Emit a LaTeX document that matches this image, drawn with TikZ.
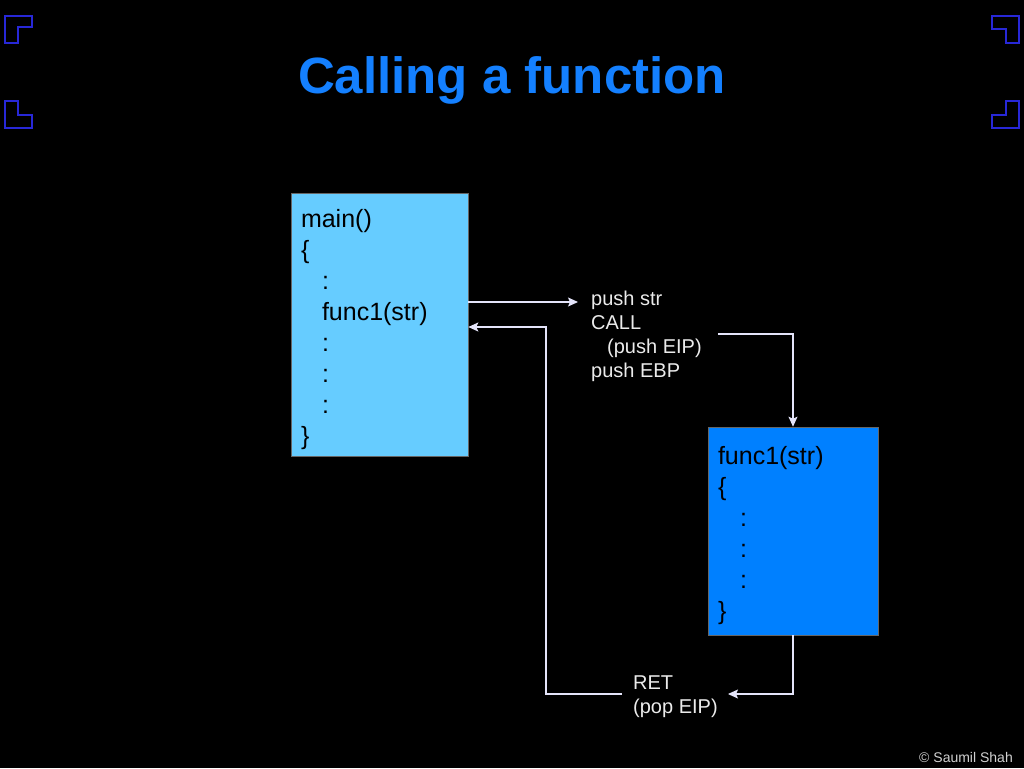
\documentclass[tikz,border=0pt]{standalone}
\usepackage{fontspec}
\setmainfont{Liberation Sans}
\usepackage{xcolor}
\usetikzlibrary{arrows.meta, positioning}
\definecolor{titleblue}{RGB}{20,128,255}
\definecolor{lightbox}{RGB}{102,204,255}
\definecolor{darkbox}{RGB}{0,128,255}
\definecolor{cornerblue}{RGB}{40,40,215}
\definecolor{linkcol}{RGB}{228,228,250}

\begin{document}
\begin{tikzpicture}[x=1pt, y=-1pt,
            box/.style={draw=black!60, line width=0.6pt, rectangle, align=left, inner xsep=10pt, inner ysep=4pt, font=\fontsize{25}{31}\selectfont},
            note/.style={text=white!92!black, align=left, inner sep=0pt, font=\fontsize{20}{24}\selectfont},
            corner/.style={draw=cornerblue, line width=1.5pt},
            arrow/.style={-{Stealth[length=10pt, width=9pt, inset=2pt]}, line width=1.2pt, linkcol}]

            \fill[black] (0,0) rectangle (1024,768);
            \useasboundingbox (0,0) rectangle (1024,768);

            % corner marks
            \draw[corner] (5,16) -- (32,16) -- (32,27) -- (18,27) -- (18,43) -- (5,43) -- cycle;
            \draw[corner] (5,101) -- (18,101) -- (18,115) -- (32,115) -- (32,128) -- (5,128) -- cycle;
            \draw[corner] (992,16) -- (1019,16) -- (1019,43) -- (1006,43) -- (1006,29) -- (992,29) -- cycle;
            \draw[corner] (1006,101) -- (1019,101) -- (1019,128) -- (992,128) -- (992,115) -- (1006,115) -- cycle;

            \node[anchor=base, inner sep=0pt, text=titleblue, font=\fontsize{51}{60}\selectfont\bfseries] (title) at (512,93) {Calling a function};

            \node[box, fill=lightbox, text width=157pt, minimum height=263pt] (main) at (379.5,324.5)
                {\rule{0pt}{28pt}main()\\ \{\\ \hspace*{21pt}:\\ \hspace*{21pt}func1(str)\\ \hspace*{21pt}:\\ \hspace*{21pt}:\\ \hspace*{21pt}:\\ \}};
            \node[box, fill=darkbox, text width=150pt, minimum height=208pt] (func) at (793,531)
                {\rule{0pt}{28pt}func1(str)\\ \{\\ \hspace*{22pt}:\\ \hspace*{22pt}:\\ \hspace*{22pt}:\\ \}};

            \node[note, anchor=north west] (pushtxt) at (591,291) {push str\\ CALL\\ \hspace*{16pt}(push EIP)\\ push EBP};
            \node[note, anchor=north west] (rettxt) at (633,675.7) {RET\\ (pop EIP)};

            \node[anchor=base east, inner sep=0pt, text=white!82!black, font=\fontsize{14}{16}\selectfont] (credit) at (1013,762) {\textcopyright{} Saumil Shah};

            \coordinate (pushin) at (578,302);
            \coordinate (callturn) at (793,334);
            \coordinate (retin) at (728,694);
            \coordinate (retup) at (546,327);

            \draw[arrow] (main.east |- pushin) -- (pushin);
            \draw[arrow, shorten <=16pt] (pushtxt.east |- callturn) -- (callturn) -- (func.north);
            \draw[arrow] (func.south) |- (retin);
            \draw[arrow, shorten <=11pt] (rettxt.west |- retin) -| (retup) -- (main.east |- retup);
        \end{tikzpicture}
\end{document}
